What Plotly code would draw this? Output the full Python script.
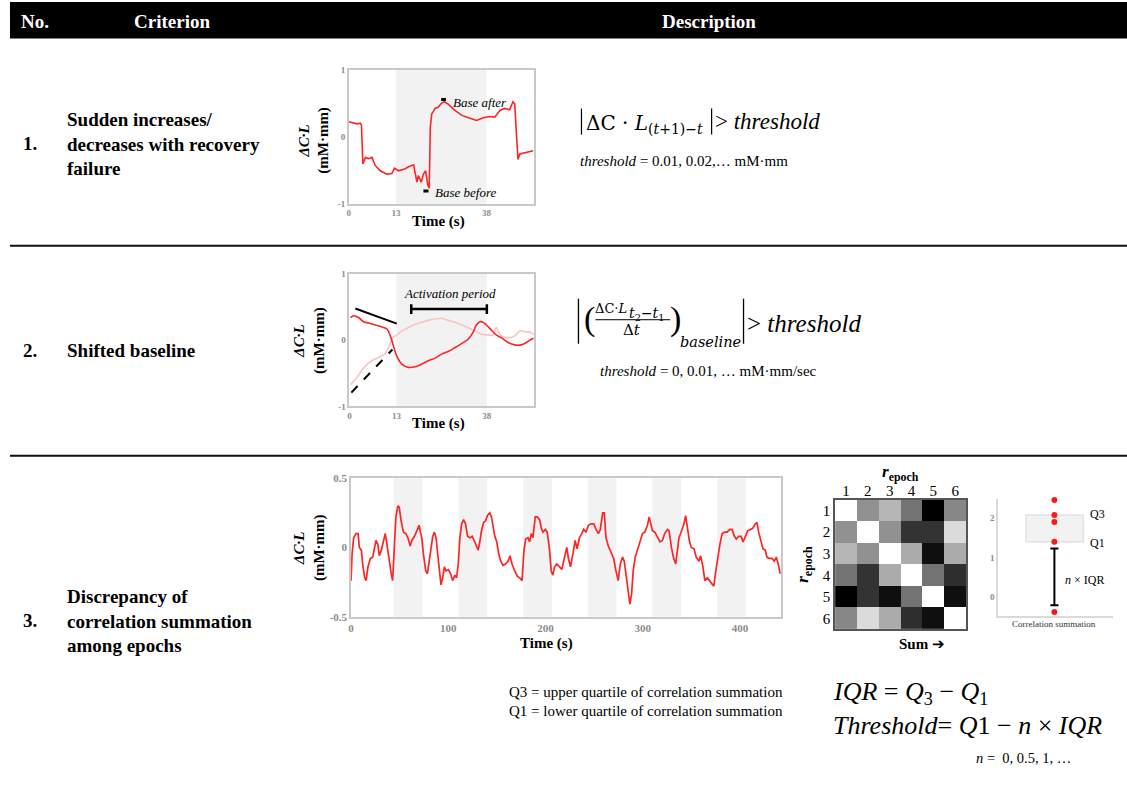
import numpy as np
import plotly.graph_objects as go

W, H = 1127, 785
SERIF = "Liberation Serif"
MATH = "DejaVu Serif"
RED = "#ff2424"
PINK = "#f9c4c4"
BAND = "#f2f2f2"
FRAME = "#c9c9c9"
TICK = "#8c8c8c"

# ---------------- data ----------------
# Criterion 1: abrupt step that does not recover
t_step = [0, 2.3, 3.2, 3.5, 3.9, 4.6, 5.5, 6.4, 7.3, 8.7,
          10.5, 11.9, 12.6, 13.7, 15.6, 16.5, 17.9, 18.3, 18.8, 19.2,
          20.0, 20.6, 21.2, 21.8, 22.2, 22.5, 22.9, 23.4, 23.8, 24.7,
          25.6, 26.4, 27.5, 29.3, 31.1, 33.0, 35.3, 37.1, 38.9, 40.3,
          41.7, 43.0, 44.4, 45.3, 45.8, 46.2, 46.7, 47.2, 48.5, 49.9, 50.9]
dcl_step = [0.22, 0.19, 0.2, 0.17, -0.41, -0.31, -0.33, -0.31, -0.43, -0.51,
            -0.56, -0.55, -0.47, -0.51, -0.48, -0.45, -0.42, -0.56, -0.68, -0.58,
            -0.68, -0.56, -0.51, -0.72, -0.77, 0.14, 0.34, 0.38, 0.42, 0.44,
            0.5, 0.52, 0.48, 0.39, 0.32, 0.28, 0.24, 0.28, 0.3, 0.29,
            0.39, 0.42, 0.4, 0.52, 0.49, 0.1, -0.34, -0.26, -0.24, -0.22, -0.21]
block_ticks = [0, 13, 38]
task_on, task_off = 13, 38
base_after_t, base_after_v = [25.5, 26.8], 0.555
base_before_t, base_before_v = [20.6, 22.0], -0.81

# Criterion 2: drifting baseline (raw and reference channel)
t_shift = [0.3, 1.2, 2.6, 3.9, 5.3, 7.2, 9.0, 10.4, 11.3, 12.2,
           13.1, 14.5, 16.3, 18.2, 20.0, 21.8, 23.7, 25.5, 27.3, 29.2,
           31.0, 32.8, 34.2, 35.1, 36.1, 37.0, 37.9, 39.3, 40.6, 42.0,
           43.9, 45.7, 47.5, 48.9, 50.3, 50.9]
dcl_shift = [0.34, 0.37, 0.34, 0.28, 0.26, 0.23, 0.2, 0.17, 0.07, -0.09,
             -0.24, -0.36, -0.41, -0.4, -0.36, -0.31, -0.27, -0.21, -0.17, -0.11,
             -0.05, 0.015, 0.12, 0.23, 0.28, 0.27, 0.23, 0.15, 0.08, 0.04,
             -0.035, -0.07, -0.07, -0.035, 0.015, 0.03]
t_rise = [0.3, 1.7, 3.0, 4.4, 6.2, 8.1, 9.9, 11.0, 11.9, 13.1,
          14.5, 16.3, 18.2, 20.0, 21.8, 23.7, 25.5, 27.3, 29.2, 31.0,
          32.8, 34.7, 36.5, 38.3, 39.7, 40.6, 41.1, 42.0, 43.9, 45.7,
          47.1, 48.4, 50.3, 50.9]
dcl_rise = [-0.67, -0.59, -0.49, -0.39, -0.31, -0.26, -0.2, -0.085, 0.03, 0.08,
            0.14, 0.19, 0.24, 0.27, 0.3, 0.32, 0.33, 0.3, 0.27, 0.23,
            0.19, 0.14, 0.09, 0.08, 0.08, 0.19, 0.14, 0.065, 0.04, 0.065,
            0.14, 0.13, 0.115, 0.08]
slope_pre_t, slope_pre_v = [1.65, 13.1], [0.48, 0.25]
slope_rise_t, slope_rise_v = [0.55, 11.9], [-0.79, -0.14]
activation_t, activation_v = [17.1, 38.0], 0.47

# Criterion 3: full run with six task epochs
t_run = [0, 1, 2.7, 5.1, 7.2, 8.5, 10.6, 11.9, 14, 15.4,
         17.4, 19.8, 22.2, 24.2, 25.6, 27.6, 29, 31.1, 33.4, 35.2,
         36.9, 39.2, 41.3, 42.7, 44, 46.1, 48.1, 49.5, 51.5, 53.9,
         56.3, 58.4, 60.8, 62.5, 65.2, 67.6, 70, 71.3, 72.7, 74.4,
         76.8, 78.5, 80.2, 82.3, 84, 85.7, 87.4, 89.1, 90.8, 92.5,
         94.2, 95.9, 97.6, 100, 102.4, 104.4, 106.8, 108.5, 110.2, 111.9,
         113.7, 115.7, 117.7, 119.8, 122.2, 124.6, 126.6, 129, 130.7, 132.4,
         134.1, 136.2, 138.2, 140.3, 142.7, 144.4, 146.1, 147.8, 149.8, 151.9,
         153.9, 156.3, 158.7, 161.4, 163.5, 165.5, 168.3, 171, 173.4, 175.8,
         177.8, 179.5, 181.9, 183.6, 185.3, 187, 189.4, 191.5, 193.9, 195.6,
         197.3, 199.7, 201.7, 204.1, 205.8, 207.5, 209.2, 211.6, 214.3, 216.7,
         219.5, 221.8, 223.5, 225.6, 228, 230.4, 232.4, 234.8, 237.2, 239.2,
         241.6, 244, 246.8, 249.5, 251.9, 254.3, 256.3, 258.7, 260.4, 262.1,
         264.5, 267.2, 270, 272.4, 274.7, 276.8, 279.2, 280.9, 283.3, 285,
         286.7, 288.4, 290.1, 292.2, 294.5, 297.3, 299.7, 302, 304.8, 306.5,
         308.2, 309.9, 312.3, 315, 317.7, 320.1, 322.5, 325.3, 327, 329.4,
         331.4, 333.8, 335.5, 337.2, 338.9, 340.6, 342.3, 344, 345.7, 347.8,
         349.8, 352.6, 354.9, 357.7, 359.4, 361.8, 363.8, 366.2, 368.6, 371.3,
         373, 374.7, 377.1, 379.2, 381.6, 384, 386.7, 389.4, 391.8, 394.2,
         396.2, 398.6, 401, 403.1, 405.5, 407.8, 410.6, 413.3, 415.7, 417.4,
         419.1, 421.5, 423.5, 425.9, 427.6, 430, 432.8, 435.2, 437.2, 439.2,
         441.3]
dcl_run = [-0.24, -0.05, 0.07, 0.1, 0.1, 0, -0.02, -0.12, -0.22, -0.24,
           -0.14, -0.08, -0.07, -0.01, 0.05, 0.02, -0.06, -0.02, 0.05, 0.1,
           0.02, -0.1, -0.19, -0.24, -0.05, 0.22, 0.3, 0.29, 0.19, 0.11,
           0.1, 0.07, 0.01, 0.05, 0.08, 0.12, 0.16, 0.11, 0.07, -0.05,
           -0.17, -0.19, -0.1, 0, 0.08, 0.11, 0.07, -0.05, -0.19, -0.27,
           -0.22, -0.14, -0.17, -0.16, -0.19, -0.24, -0.2, -0.22, -0.12, 0.07,
           0.17, 0.2, 0.17, 0.08, 0.07, 0.08, 0.05, 0, -0.02, 0.04,
           0.12, 0.18, 0.19, 0.23, 0.25, 0.22, 0.13, 0.08, 0.04, -0.05,
           -0.1, -0.13, -0.12, -0.1, -0.06, -0.12, -0.17, -0.21, -0.22, -0.24,
           -0.02, 0.06, 0.07, 0.04, 0.1, 0.07, 0.22, 0.22, 0.2, 0.14,
           0.11, 0.13, 0.11, -0.02, -0.17, -0.2, -0.14, -0.12, -0.14, -0.16,
           -0.07, 0, -0.08, -0.14, -0.05, 0.05, -0.01, 0.07, 0.1, 0.13,
           0.11, 0.16, 0.17, 0.17, 0.13, 0.1, 0.13, 0.25, 0.25, 0.07,
           0.01, -0.04, -0.08, -0.17, -0.24, -0.12, -0.07, -0.1, -0.22, -0.34,
           -0.41, -0.34, -0.17, -0.07, -0.02, 0.04, 0.1, 0.11, 0.16, 0.22,
           0.17, 0.12, 0.11, 0.08, 0.04, 0.05, 0.1, 0.13, 0.12, 0,
           -0.07, -0.12, -0.02, 0.07, 0.1, 0.13, 0.17, 0.23, 0.13, 0.05,
           0, -0.01, -0.07, -0.1, -0.06, -0.14, -0.24, -0.22, -0.24, -0.27,
           -0.28, -0.19, -0.07, 0.02, 0.1, 0.11, 0.11, 0.13, 0.13, 0.08,
           0.06, 0.08, 0.08, 0.04, 0.08, 0.12, 0.13, 0.14, 0.17, 0.18,
           0.11, 0.05, -0.01, -0.02, -0.07, -0.08, -0.08, -0.1, -0.07, -0.12,
           -0.19]
epoch_start = [44, 110.5, 177, 243.5, 310, 376.5]
epoch_end = [73.5, 140, 206.5, 273, 339.5, 406]
run_xticks = [0, 100, 200, 300, 400]
run_yticks = [-0.5, 0, 0.5]

# Epoch-by-epoch correlation matrix
epochs = [1, 2, 3, 4, 5, 6]
r_epoch = [[1.00, 0.57, 0.71, 0.45, 0.00, 0.53],
           [0.57, 1.00, 0.57, 0.20, 0.20, 0.86],
           [0.71, 0.57, 1.00, 0.67, 0.06, 0.67],
           [0.45, 0.20, 0.67, 1.00, 0.45, 0.18],
           [0.00, 0.20, 0.06, 0.45, 1.00, 0.06],
           [0.53, 0.86, 0.67, 0.18, 0.06, 1.00]]

# Correlation summation per epoch and the n x IQR span below Q1
corr_sum = [2.46, 2.08, 1.9, 1.4, -0.38]
iqr_span = [1.23, -0.21]

q1, q3 = np.percentile(corr_sum, [25, 75])


def px(x):
    return x / W


def py(y):
    # page-pixel row -> paper fraction, with a slight vertical stretch of the layout
    return 1 - ((y - 5.5) / 0.984) / H


def bold(v):
    return f"<b>{v}</b>"


fig = go.Figure()

# ---------------- traces ----------------
fig.add_trace(go.Scatter(x=t_step, y=dcl_step, xaxis="x", yaxis="y", mode="lines",
                         line=dict(color=RED, width=1.6), hoverinfo="skip"))
fig.add_trace(go.Scatter(x=t_rise, y=dcl_rise, xaxis="x2", yaxis="y2", mode="lines",
                         line=dict(color=PINK, width=1.6, shape="spline"), hoverinfo="skip"))
fig.add_trace(go.Scatter(x=t_shift, y=dcl_shift, xaxis="x2", yaxis="y2", mode="lines",
                         line=dict(color=RED, width=1.6, shape="spline"), hoverinfo="skip"))
fig.add_trace(go.Scatter(x=t_run, y=dcl_run, xaxis="x3", yaxis="y3", mode="lines",
                         line=dict(color=RED, width=1.7), hoverinfo="skip"))
fig.add_trace(go.Heatmap(z=r_epoch, x=epochs, y=epochs, xaxis="x4", yaxis="y4",
                         colorscale=[[0, "#000000"], [1, "#ffffff"]], zmin=0, zmax=1,
                         showscale=False, hoverinfo="skip"))
fig.add_trace(go.Scatter(x=[0.49] * len(corr_sum), y=corr_sum, xaxis="x5", yaxis="y5",
                         mode="markers", marker=dict(color="#ff1a1a", size=6),
                         hoverinfo="skip", cliponaxis=False))
cap = 0.035
fig.add_trace(go.Scatter(
    x=[0.49 - cap, 0.49 + cap, None, 0.49, 0.49, None, 0.49 - cap, 0.49 + cap],
    y=[iqr_span[0], iqr_span[0], None, iqr_span[0], iqr_span[1], None, iqr_span[1], iqr_span[1]],
    xaxis="x5", yaxis="y5", mode="lines", line=dict(color="black", width=2),
    hoverinfo="skip"))

# ---------------- axes ----------------
frame = dict(showline=True, mirror=True, linecolor=FRAME, linewidth=1.5,
             showgrid=False, zeroline=False, ticks="", fixedrange=True)
small_tick = dict(family=SERIF, size=9, color=TICK)
mid_tick = dict(family=SERIF, size=11, color=TICK)
matrix_axis = dict(showline=True, mirror=True, linecolor="#555555", linewidth=1.5,
                   showgrid=False, zeroline=False, ticks="", fixedrange=True,
                   tickvals=epochs, tickfont=dict(family=SERIF, size=15, color="black"))

layout_axes = dict(
    xaxis=dict(domain=[px(346.7), px(532)], range=[0, 51], anchor="y",
               tickvals=block_ticks, ticktext=[bold(v) for v in block_ticks],
               tickfont=small_tick, **frame),
    yaxis=dict(domain=[py(203), py(69)], range=[-1, 1], anchor="x",
               tickvals=[-1, 0, 1], ticktext=[bold(v) for v in [-1, 0, 1]],
               tickfont=small_tick, **frame),
    xaxis2=dict(domain=[px(347.3), px(532.3)], range=[0, 51], anchor="y2",
                tickvals=block_ticks, ticktext=[bold(v) for v in block_ticks],
                tickfont=small_tick, **frame),
    yaxis2=dict(domain=[py(405.7), py(273.3)], range=[-1, 1], anchor="x2",
                tickvals=[-1, 0, 1], ticktext=[bold(v) for v in [-1, 0, 1]],
                tickfont=small_tick, **frame),
    xaxis3=dict(domain=[px(349), px(780)], range=[0, 442], anchor="y3",
                tickvals=run_xticks, ticktext=[bold(v) for v in run_xticks],
                tickfont=mid_tick, **frame),
    yaxis3=dict(domain=[py(615.7), py(477.3)], range=[-0.5, 0.5], anchor="x3",
                tickvals=run_yticks, ticktext=[bold(v) for v in run_yticks],
                tickfont=mid_tick, **frame),
    xaxis4=dict(domain=[px(834.3), px(965.7)], range=[0.5, 6.5], anchor="y4", side="top",
                ticklabelstandoff=-4, **matrix_axis),
    yaxis4=dict(domain=[py(628.3), py(499)], range=[6.5, 0.5], anchor="x4",
                **matrix_axis),
    xaxis5=dict(domain=[px(997.7), px(1113)], range=[0, 1], anchor="y5",
                showticklabels=False, showline=True, linecolor="#dadada", linewidth=1.5,
                showgrid=False, zeroline=False, ticks="", fixedrange=True),
    yaxis5=dict(domain=[py(615), py(498)], range=[-0.48, 2.49], anchor="x5",
                tickvals=[0, 1, 2], ticktext=[bold(v) for v in [0, 1, 2]],
                tickfont=dict(family=SERIF, size=9, color=TICK),
                showline=True, linecolor="#dadada", linewidth=1.5,
                showgrid=False, zeroline=False, ticks="", fixedrange=True),
)

# ---------------- shapes ----------------
shapes = []
# table header and row separators
shapes.append(dict(type="rect", xref="paper", yref="paper", x0=px(7), x1=1,
                   y0=py(38), y1=py(1.5), fillcolor="black", line=dict(width=0)))
for yy in (245, 455):
    shapes.append(dict(type="line", xref="paper", yref="paper", x0=px(7), x1=1,
                       y0=py(yy), y1=py(yy), line=dict(color="#111111", width=2)))
# task blocks
for xr, yr in (("x", "y domain"), ("x2", "y2 domain")):
    shapes.append(dict(type="rect", xref=xr, yref=yr, x0=task_on, x1=task_off, y0=0, y1=1,
                       fillcolor=BAND, line=dict(width=0), layer="below"))
for a, b in zip(epoch_start, epoch_end):
    shapes.append(dict(type="rect", xref="x3", yref="y3 domain", x0=a, x1=b, y0=0, y1=1,
                       fillcolor=BAND, line=dict(width=0), layer="below"))
# baseline markers, criterion 1
shapes.append(dict(type="line", xref="x", yref="y", x0=base_after_t[0], x1=base_after_t[1],
                   y0=base_after_v, y1=base_after_v, line=dict(color="black", width=3)))
shapes.append(dict(type="line", xref="x", yref="y", x0=base_before_t[0], x1=base_before_t[1],
                   y0=base_before_v, y1=base_before_v, line=dict(color="black", width=3)))
# slope guides, criterion 2
shapes.append(dict(type="line", xref="x2", yref="y2", x0=slope_pre_t[0], x1=slope_pre_t[1],
                   y0=slope_pre_v[0], y1=slope_pre_v[1], line=dict(color="black", width=2)))
shapes.append(dict(type="line", xref="x2", yref="y2", x0=slope_rise_t[0], x1=slope_rise_t[1],
                   y0=slope_rise_v[0], y1=slope_rise_v[1],
                   line=dict(color="black", width=2, dash="dash")))
shapes.append(dict(type="line", xref="x2", yref="y2", x0=activation_t[0], x1=activation_t[1],
                   y0=activation_v, y1=activation_v, line=dict(color="black", width=2.5)))
for tt in activation_t:
    shapes.append(dict(type="line", xref="x2", yref="y2", x0=tt, x1=tt,
                       y0=activation_v - 0.075, y1=activation_v + 0.075,
                       line=dict(color="black", width=2.5)))
# interquartile box
shapes.append(dict(type="rect", xref="x5", yref="y5", x0=0.243, x1=0.742, y0=q1, y1=q3,
                   fillcolor="#f2f2f2", line=dict(color="#e2e2e2", width=1.5), layer="below"))
# absolute-value bars of both formulas, fraction bar of the slope criterion
for xx in (580, 710.5):
    shapes.append(dict(type="line", xref="paper", yref="paper", x0=px(xx), x1=px(xx),
                       y0=py(108), y1=py(134), line=dict(color="black", width=1.2)))
for xx in (577, 742.5):
    shapes.append(dict(type="line", xref="paper", yref="paper", x0=px(xx), x1=px(xx),
                       y0=py(298), y1=py(343), line=dict(color="black", width=1.3)))
shapes.append(dict(type="line", xref="paper", yref="paper", x0=px(594), x1=px(669),
                   y0=py(319), y1=py(319), line=dict(color="black", width=1)))

# ---------------- text ----------------
ann = []


def txt(x, y, s, size, color="black", xanchor="left", yanchor="middle",
        family=SERIF, angle=0, align="left"):
    ann.append(dict(xref="paper", yref="paper", x=px(x), y=py(y), text=s, showarrow=False,
                    font=dict(family=family, size=size, color=color),
                    xanchor=xanchor, yanchor=yanchor, textangle=angle, align=align,
                    borderpad=0))


# header
txt(17, 20.5, "<b>No.</b>", 19, color="white")
txt(130, 20.5, "<b>Criterion</b>", 19, color="white")
txt(708, 20.5, "<b>Description</b>", 19, color="white", xanchor="center")

# row labels
txt(19, 143, "<b>1.</b>", 19)
txt(63, 143, "<b>Sudden increases/<br>decreases with recovery<br>failure</b>", 19)
txt(19, 350, "<b>2.</b>", 19)
txt(63, 350, "<b>Shifted baseline</b>", 19)
txt(19, 620, "<b>3.</b>", 19)
txt(63, 620, "<b>Discrepancy of<br>correlation summation<br>among epochs</b>", 19)

# axis titles
ytitle = "<b><i>ΔC·L</i></b><br><b>(mM·mm)</b>"
txt(312, 140, ytitle, 15, xanchor="center", angle=-90, align="center")
txt(308, 340, ytitle, 15, xanchor="center", angle=-90, align="center")
txt(308, 547, ytitle, 15, xanchor="center", angle=-90, align="center")
txt(437, 221, "<b>Time (s)</b>", 15, xanchor="center")
txt(437, 423, "<b>Time (s)</b>", 15, xanchor="center")
txt(545, 643, "<b>Time (s)</b>", 15, xanchor="center")

# in-plot labels
txt(450, 101.5, "<i>Base after</i>", 13)
txt(432, 192, "<i>Base before</i>", 13)
txt(448, 293, "<i>Activation period</i>", 13, xanchor="center")

# criterion 1 formula
txt(584, 123, "ΔC · <i>L</i><sub>(<i>t</i>+1)−<i>t</i></sub>", 20, family=MATH)
txt(713, 121, "> <i>threshold</i>", 23)
txt(578, 160, "<i>threshold</i> = 0.01, 0.02,… mM·mm", 15)

# criterion 2 formula
txt(588, 318, "(", 34, xanchor="center")
txt(674, 318, ")", 34, xanchor="center")
txt(593, 308, "ΔC·<i>L</i>", 13, family=MATH)
txt(627, 313, "<i>t</i><sub>2</sub>−<i>t</i><sub>1</sub>", 14, family=MATH)
txt(631, 329, "Δ<i>t</i>", 15, family=MATH, xanchor="center")
txt(678, 341, "<i>baseline</i>", 14.5, family=MATH)
txt(745, 323, "> <i>threshold</i>", 25)
txt(598, 370, "<i>threshold</i> = 0, 0.01, … mM·mm/sec", 15)

# correlation matrix labels
txt(900, 472, "<b><i>r</i><sub>epoch</sub></b>", 17, xanchor="center")
txt(803, 563, "<b><i>r</i><sub>epoch</sub></b>", 17, xanchor="center", angle=-90)
txt(921, 643, "<b>Sum</b> ➔", 15, xanchor="center")

# box annotations
txt(1089, 513, "Q3", 12)
txt(1089, 542, "Q1", 12)
txt(1064, 579, "<i>n</i> × IQR", 12)
txt(1054, 623, "Correlation summation", 9, xanchor="center", color="#333333")

# criterion 3 definitions
txt(506, 691, "Q3 = upper quartile of correlation summation", 15)
txt(506, 710, "Q1 = lower quartile of correlation summation", 15)
txt(831, 692, "<i>IQR</i> = <i>Q</i><sub>3</sub> − <i>Q</i><sub>1</sub>", 26)
txt(831, 724, "<i>Threshold</i>= <i>Q</i>1 − <i>n</i> × <i>IQR</i>", 26)
txt(975, 757, "<i>n</i> =  0, 0.5, 1, …", 14.5)

fig.update_layout(
    width=W, height=H, margin=dict(l=0, r=0, t=0, b=0),
    paper_bgcolor="white", plot_bgcolor="white", showlegend=False,
    font=dict(family=SERIF, color="black"),
    shapes=shapes, annotations=ann, **layout_axes,
)

fig.write_html("out.html", config={"displayModeBar": False})
